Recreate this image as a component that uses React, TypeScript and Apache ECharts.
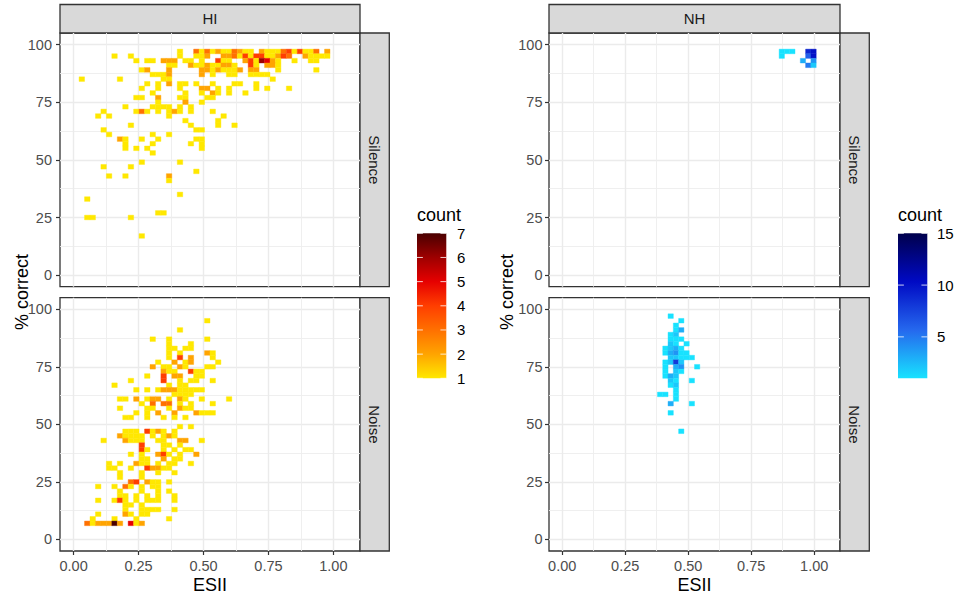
import React, { useEffect, useRef } from "react";
import * as echarts from "echarts";

// ---- data: 2D histogram (bin2d) counts ----
// ESII bins are 0.021 wide starting at 0, % correct bins are 2 wide starting at 0.
// Each row: [percent-bin index, counts per ESII bin ('.' = empty, digits/letters base 36)]
const ESII_BIN = 0.021;
const PCT_BIN = 2;

const hearingGroups = ["HI", "NH"];
const conditions = ["Silence", "Noise"];

const xTicks = [0, 0.25, 0.5, 0.75, 1];
const xMinorTicks = [0.125, 0.375, 0.625, 0.875];
const yTicks = [0, 25, 50, 75, 100];
const yMinorTicks = [12.5, 37.5, 62.5, 87.5];

const hiSilenceRows: [number, string][] = [
  [48, "..........|.........1|..31312113|211.211134|14113.2"],
  [47, ".......1..|1........1|..112..223|1414411243|..21111"],
  [46, "..........|.1.11.222.|11.1..411.|.2416521..|1..11"],
  [45, "..........|.......11.|.211211221|..41.221"],
  [44, "..........|..12...2..|...2212111|2.22...1..|....1"],
  [43, "..........|....1112..|...2.1..11|..1111"],
  [42, ".1......1.|......11..|..........|......1"],
  [41, "..........|...1.1.2.1|1.1..1...1|1..1"],
  [40, "..........|..1..1...1|...22.1.1.|...1.1...1"],
  [39, "..........|....1.....|1..1.21.1.|.1"],
  [38, "..........|.11..2...1|1...11"],
  [37, "..........|.....1....|2..1"],
  [36, ".........1|....1111.1|.1"],
  [35, ".....1....|.131.1.121|.1...1"],
  [34, "....1.1...|.......1..|.......1"],
  [33, "..........|..........|1.....1"],
  [32, "..........|1.........|.1....1..1"],
  [31, ".....1....|..........|..11"],
  [30, "......1...|....1..1"],
  [29, "........21|..1..1....|..11"],
  [28, ".........1|....1.....|.1.1"],
  [27, ".........1|.1.1......|...1"],
  [26, "..........|....1"],
  [24, "..........|..1......1"],
  [23, ".....1....|1"],
  [22, "..........|..........|..1"],
  [21, "......1..1|.......2"],
  [20, "..........|.......1"],
  [17, "..........|.........1"],
  [16, "..1"],
  [13, "..........|.....11"],
  [12, "..11......|1"],
  [8, "..........|..1"],
];

const hiNoiseRows: [number, string][] = [
  [47, "..........|..........|....1"],
  [45, "..........|.........1"],
  [43, "..........|....1..1..|....1"],
  [42, "..........|.......1..|.1"],
  [41, "..........|.......11.|11"],
  [40, "..........|.......1.1|....21"],
  [39, "..........|.......1.4|.2...1"],
  [38, "..........|.....1..2.|12....1"],
  [37, "..........|....2.11.2|1...11"],
  [36, "..........|......211.|.411"],
  [35, "..........|...1..4.22|..11"],
  [34, "..........|1.....4..1|.11..1"],
  [33, ".......1..|.......1.1|1"],
  [32, "..........|.1.1.12221|1111"],
  [31, "..........|........11|11"],
  [30, "........11|.2.122.1.2|1..1....1"],
  [29, "..........|..1.3.33.1|.1...1"],
  [28, "........1.|...11..1.2|11"],
  [27, "..........|.1.1.2..2.|..2111"],
  [26, ".........1|1..1..1.1.|1"],
  [24, "..........|.........1|.1"],
  [23, ".........1|11.4121.1."],
  [22, "........21|111.1.121."],
  [21, ".....1...2|111..11..2|2..1"],
  [20, "..........|..4...11.1"],
  [19, "..........|..41..1.1.|11"],
  [18, "..........|1.1..241.1|..2"],
  [17, "..........|..11..2.11"],
  [16, "......1.1.|.211.1.11.|.1"],
  [15, "......11..|1..42211"],
  [14, "........1.|..1..1..1"],
  [13, "........1.|..1"],
  [12, "..........|34.211.1"],
  [11, "....1..1.3|1.1.11"],
  [10, "........1.|..1..1.1"],
  [9, "........11|.1.1.1..1"],
  [8, "....1..141|.1.111..1"],
  [7, ".........1|1.1"],
  [6, ".........1|..1111..1"],
  [5, "....1....2|1.11"],
  [4, "...1...1..|.1.....1"],
  [3, "..3122272.|512"],
];

const nhSilenceRows: [number, string][] = [
  [48, "..........|..........|..........|..........|.111..9a"],
  [47, "..........|..........|..........|..........|.1....6a"],
  [46, "..........|..........|..........|..........|.....3.4"],
  [45, "..........|..........|..........|..........|......52"],
];

const nhNoiseRows: [number, string][] = [
  [48, "..........|..........|1"],
  [47, "..........|..........|..1"],
  [46, "..........|..........|.1"],
  [45, "..........|..........|.13"],
  [44, "..........|..........|12"],
  [43, "..........|..........|111"],
  [42, "..........|..........|21.1"],
  [41, "..........|.........1|231"],
  [40, "..........|.........1|3411"],
  [39, "..........|..........|22111"],
  [38, "..........|.........1|282"],
  [37, "..........|.........1|.34..1"],
  [36, "..........|.........1|.21"],
  [35, "..........|.........1|32"],
  [34, "..........|..........|21..1"],
  [33, "..........|..........|12"],
  [32, "..........|..........|.1"],
  [31, "..........|........11|.1"],
  [30, "..........|..........|.1"],
  [29, "..........|..........|3...1"],
  [27, "..........|..........|1"],
  [23, "..........|..........|..1"],
];

const hiCountTicks = [1, 2, 3, 4, 5, 6, 7];
const nhCountTicks = [5, 10, 15];
const hiCountRange = [1, 7];
const nhCountRange = [1, 15];
const hiColors = ["#FFE800", "#FFA400", "#FF7000", "#FF3E00", "#E60000", "#9E0000", "#4A0000"];
const nhColors = ["#18E2FF", "#2568EE", "#000AC4", "#00004C"];

function toCells(rows: [number, string][]) {
  const out: number[][] = [];
  rows.forEach(([j, s]) => {
    const str = s.replace(/\|/g, "");
    for (let k = 0; k < str.length; k++) {
      const ch = str[k];
      if (ch !== ".") out.push([(k + 0.5) * ESII_BIN, (j + 0.5) * PCT_BIN, parseInt(ch, 36)]);
    }
  });
  return out;
}

const FONT = "'Liberation Sans', Arial, Helvetica, sans-serif";

export default function App() {
  const ref = useRef<HTMLDivElement>(null);
  useEffect(() => {
    document.body.style.margin = "0";
    if (!ref.current) return;
    const chart = echarts.init(ref.current, undefined, { renderer: "svg" });

    const plots = [
      { left: 60, width: 300, ylabMargin: 8, yTitleX: 22, legendX: 417, labelX: 457, ticks: hiCountTicks, range: hiCountRange, colors: hiColors, data: [hiSilenceRows, hiNoiseRows] },
      { left: 549, width: 291, ylabMargin: 6.5, yTitleX: 507, legendX: 898, labelX: 937, ticks: nhCountTicks, range: nhCountRange, colors: nhColors, data: [nhSilenceRows, nhNoiseRows] },
    ];
    const tops = [33, 297.7];
    const heights = [253.7, 253.3];
    const stripTop = 4.5;
    const stripW = 29.3;

    const grids: any[] = [];
    const xAxes: any[] = [];
    const yAxes: any[] = [];
    const series: any[] = [];
    const graphics: any[] = [];

    plots.forEach((p, pi) => {
      conditions.forEach((cond, ri) => {
        const gi = grids.length;
        const isBottom = ri === 1;
        grids.push({
          left: p.left, top: tops[ri], width: p.width, height: heights[ri],
          show: true, backgroundColor: "#ffffff", borderColor: "#333333", borderWidth: 1.3,
        });
        xAxes.push({
          gridIndex: gi, type: "value", min: -0.0525, max: 1.1025,
          axisLine: { show: false, onZero: false },
          axisTick: { show: isBottom, length: 4, customValues: xTicks, lineStyle: { color: "#333333", width: 1.2 } },
          axisLabel: {
            show: isBottom, customValues: xTicks, margin: 7, color: "#4D4D4D", fontSize: 14.5, fontFamily: FONT,
            formatter: (v: number) => v.toFixed(2),
          },
          splitLine: { show: true, lineStyle: { color: "#EBEBEB", width: 1.4 } },
        });
        xAxes.push({
          gridIndex: gi, type: "value", min: -0.0525, max: 1.1025,
          axisLine: { show: false, onZero: false },
          axisTick: { show: false, customValues: xMinorTicks },
          axisLabel: { show: false, customValues: xMinorTicks },
          splitLine: { show: true, lineStyle: { color: "#EDEDED", width: 0.9 } },
        });
        yAxes.push({
          gridIndex: gi, type: "value", min: -5, max: 105,
          axisLine: { show: false, onZero: false },
          axisTick: { show: true, length: 4, customValues: yTicks, lineStyle: { color: "#333333", width: 1.2 } },
          axisLabel: { show: true, customValues: yTicks, margin: p.ylabMargin, color: "#4D4D4D", fontSize: 14.5, fontFamily: FONT },
          splitLine: { show: true, lineStyle: { color: "#EBEBEB", width: 1.4 } },
        });
        yAxes.push({
          gridIndex: gi, type: "value", min: -5, max: 105,
          axisLine: { show: false, onZero: false },
          axisTick: { show: false, customValues: yMinorTicks },
          axisLabel: { show: false, customValues: yMinorTicks },
          splitLine: { show: true, lineStyle: { color: "#EDEDED", width: 0.9 } },
        });
        series.push({
          type: "custom",
          name: hearingGroups[pi] + " " + cond,
          xAxisIndex: gi * 2,
          yAxisIndex: gi * 2,
          dimensions: ["esii", "pct", "count"],
          encode: { x: 0, y: 1 },
          data: toCells(p.data[ri]),
          z: 3,
          silent: true,
          renderItem: (params: any, api: any) => {
            const x = api.value(0);
            const y = api.value(1);
            const a = api.coord([x - ESII_BIN / 2, y + PCT_BIN / 2]);
            const b = api.coord([x + ESII_BIN / 2, y - PCT_BIN / 2]);
            const c = api.visual("color");
            return {
              type: "rect",
              shape: { x: a[0], y: a[1], width: b[0] - a[0], height: b[1] - a[1] },
              style: { fill: c, stroke: c, lineWidth: 0.4 },
            };
          },
        });

        const stripX = p.left + p.width;
        graphics.push({
          type: "rect",
          shape: { x: stripX, y: tops[ri], width: stripW, height: heights[ri] },
          style: { fill: "#D9D9D9", stroke: "#333333", lineWidth: 1.3 },
        });
        graphics.push({
          type: "text",
          x: stripX + stripW / 2,
          y: tops[ri] + heights[ri] / 2,
          rotation: -Math.PI / 2,
          style: { text: cond, fill: "#1A1A1A", font: `15px ${FONT}`, align: "center", verticalAlign: "middle", textAlign: "center", textVerticalAlign: "middle" },
        });
      });

      graphics.push({
        type: "rect",
        shape: { x: p.left, y: stripTop, width: p.width, height: tops[0] - stripTop },
        style: { fill: "#D9D9D9", stroke: "#333333", lineWidth: 1.3 },
      });
      graphics.push({
        type: "text",
        x: p.left + p.width / 2,
        y: (stripTop + tops[0]) / 2,
        style: { text: hearingGroups[pi], fill: "#1A1A1A", font: `15px ${FONT}`, align: "center", verticalAlign: "middle", textAlign: "center", textVerticalAlign: "middle" },
      });
      graphics.push({
        type: "text",
        x: p.left + p.width / 2,
        y: 585,
        style: { text: "ESII", fill: "#000000", font: `18px ${FONT}`, align: "center", verticalAlign: "middle", textAlign: "center", textVerticalAlign: "middle" },
      });
      graphics.push({
        type: "text",
        x: p.yTitleX,
        y: (tops[0] + tops[1] + heights[1]) / 2,
        rotation: Math.PI / 2,
        style: { text: "% correct", fill: "#000000", font: `18px ${FONT}`, align: "center", verticalAlign: "middle", textAlign: "center", textVerticalAlign: "middle" },
      });

      const barTop = 233.3;
      const barH = 145;
      const barW = 29.3;
      const [cmin, cmax] = p.range;
      graphics.push({
        type: "text",
        x: p.legendX,
        y: 215,
        style: { text: "count", fill: "#000000", font: `18px ${FONT}`, align: "left", verticalAlign: "middle", textAlign: "left", textVerticalAlign: "middle" },
      });
      graphics.push({
        type: "rect",
        shape: { x: p.legendX, y: barTop, width: barW, height: barH },
        style: {
          fill: new echarts.graphic.LinearGradient(0, 1, 0, 0,
            p.colors.map((c, i) => ({ offset: i / (p.colors.length - 1), color: c }))),
        },
      });
      p.ticks.forEach((v) => {
        const ty = barTop + barH - ((v - cmin) / (cmax - cmin)) * barH;
        graphics.push({
          type: "line",
          shape: { x1: p.legendX, y1: ty, x2: p.legendX + barW / 5, y2: ty },
          style: { stroke: "#ffffff", lineWidth: 1, opacity: 0.8 },
        });
        graphics.push({
          type: "line",
          shape: { x1: p.legendX + barW * 4 / 5, y1: ty, x2: p.legendX + barW, y2: ty },
          style: { stroke: "#ffffff", lineWidth: 1, opacity: 0.8 },
        });
        graphics.push({
          type: "text",
          x: p.labelX,
          y: ty,
          style: { text: String(v), fill: "#000000", font: `15px ${FONT}`, align: "left", verticalAlign: "middle", textAlign: "left", textVerticalAlign: "middle" },
        });
      });
    });

    chart.setOption({
      animation: false,
      backgroundColor: "#ffffff",
      grid: grids,
      xAxis: xAxes,
      yAxis: yAxes,
      visualMap: [
        { type: "continuous", show: false, seriesIndex: [0, 1], dimension: 2, min: hiCountRange[0], max: hiCountRange[1], inRange: { color: hiColors } },
        { type: "continuous", show: false, seriesIndex: [2, 3], dimension: 2, min: nhCountRange[0], max: nhCountRange[1], inRange: { color: nhColors } },
      ],
      series,
      graphic: { elements: graphics },
    });
    return () => chart.dispose();
  }, []);
  return <div ref={ref} style={{ width: 957, height: 596 }} />;
}
